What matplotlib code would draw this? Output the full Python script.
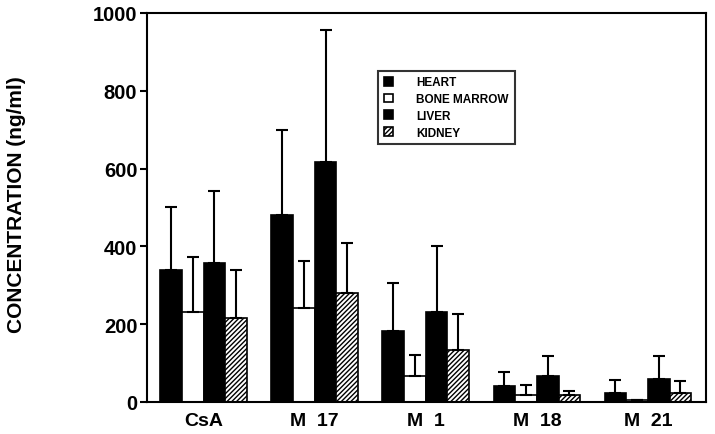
import matplotlib
matplotlib.use('Agg')
import matplotlib.pyplot as plt
import numpy as np

plt.rcParams['font.family'] = ['Liberation Sans', 'DejaVu Sans']
plt.rcParams['font.weight'] = 'bold'
plt.rcParams['hatch.linewidth'] = 1.0

groups = ["CsA", "M  17", "M  1", "M  18", "M  21"]
tissues = ["HEART", "BONE MARROW", "LIVER", "KIDNEY"]

heart = [339, 481, 182, 42, 23]
heart_sd = [162, 218, 125, 34, 34]
marrow = [232, 241, 68, 19, 6]
marrow_sd = [140, 122, 54, 25, 0]
liver = [357, 616, 232, 66, 59]
liver_sd = [186, 339, 170, 53, 58]
kidney = [216, 280, 134, 19, 23]
kidney_sd = [124, 128, 92, 8, 32]

fig = plt.figure(figsize=(7.15, 4.35), dpi=100)
ax = fig.add_axes([0.2056, 0.0736, 0.7814, 0.8944])

ind = np.arange(len(groups))
w = 0.195
series = [(heart, heart_sd, 'black', ''),
          (marrow, marrow_sd, 'white', ''),
          (liver, liver_sd, 'black', ''),
          (kidney, kidney_sd, 'white', '///////')]

handles = []
for i, (vals, sd, col, hatch) in enumerate(series):
    x = ind - 1.5 * w + i * w
    b = ax.bar(x, vals, w, color=col, edgecolor='black', linewidth=1.2, hatch=hatch,
               yerr=[np.zeros(len(sd)), sd], capsize=4.5,
               error_kw=dict(ecolor='black', elinewidth=1.5, capthick=1.5))
    handles.append(b)

ax.set_xlim(-0.51, 4.52)
ax.set_ylim(0, 1000)
ax.set_yticks([0, 200, 400, 600, 800, 1000])
ax.set_xticks(ind)
ax.set_xticklabels(groups, fontsize=14, fontweight='heavy')
ax.tick_params(axis='x', length=0, pad=7)
ax.tick_params(axis='y', length=5, width=1.5, labelsize=14.5, pad=2)
for lab in ax.get_yticklabels():
    lab.set_fontweight('heavy')
for s in ax.spines.values():
    s.set_linewidth(1.5)

ax.set_ylabel("CONCENTRATION (ng/ml)", fontsize=15, fontweight='heavy')
ax.yaxis.set_label_coords(-0.216, 0.51)

leg = ax.legend([h[0] for h in handles], tissues, loc='upper left',
                bbox_to_anchor=(0.413, 0.852), fontsize=8.5, frameon=True,
                fancybox=False, edgecolor='black', handlelength=0.75,
                handleheight=0.75, labelspacing=0.4, borderpad=0.5,
                handletextpad=2.0, borderaxespad=0.0)
leg.get_frame().set_linewidth(1.5)
for t in leg.get_texts():
    t.set_fontweight('heavy')

fig.savefig('out.png', dpi=100)
